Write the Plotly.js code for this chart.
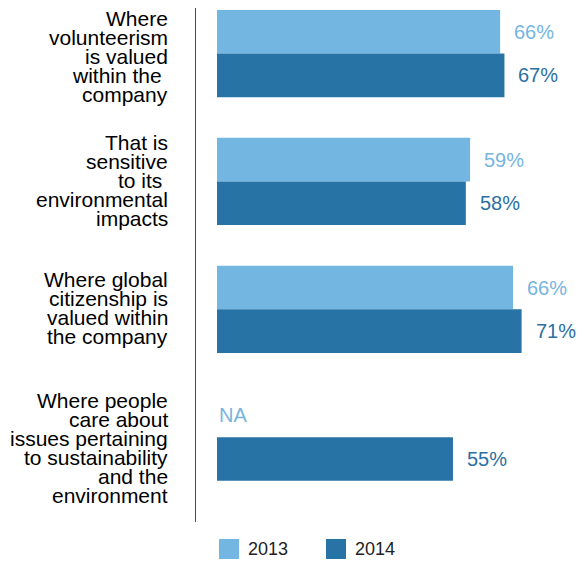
<!DOCTYPE html>
<html>
<head>
<meta charset="utf-8">
<script src="https://cdn.plot.ly/plotly-3.0.1.min.js"></script>
<style>html,body{margin:0;padding:0;background:#fff;}#chart{width:579px;height:562px;}</style>
</head>
<body>
<div id="chart"></div>
<script>
// ---- data ----
const categories = [
  "Where<br>volunteerism<br>is valued<br>within the <br>company",
  "That is<br>sensitive<br>to its <br>environmental<br>impacts",
  "Where global<br>citizenship is<br>valued within<br>the company",
  "Where people<br>care about<br>issues pertaining<br>to sustainability<br>and the<br>environment"
];
const seriesNames = ["2013", "2014"];
// bar lengths as drawn in the picture (third 2013 bar is drawn longer than its 66% label)
const values2013 = [66, 59, 69, null];
const labels2013 = ["66%", "59%", "66%", "NA"];
const values2014 = [67, 58, 71, 55];
const labels2014 = ["67%", "58%", "71%", "55%"];

// ---- style ----
const LIGHT = "#74b6e2";
const DARK = "#2773a6";
const LIGHT_TXT = "#76b5e0";
const DARK_TXT = "#2a70a2";
const FONT = "Liberation Sans, Arial, Helvetica, sans-serif";
const BARGAP = 0.318;
const labelNudge = [3, -1, -1, 11];

const traces = [
  {type: "bar", orientation: "h", name: seriesNames[0], y: categories, x: values2013,
   marker: {color: LIGHT}, hoverinfo: "skip", showlegend: false},
  {type: "bar", orientation: "h", name: seriesNames[1], y: categories, x: values2014,
   marker: {color: DARK}, hoverinfo: "skip", showlegend: false}
];

const annotations = [];
const slot = (1 - BARGAP) / 4;
categories.forEach((c, i) => {
  const lines = c.split("<br>").map(s => s.replace(/ $/, "\u00a0"));
  const n = lines.length;
  lines.forEach((ln, j) => {
    annotations.push({
      xref: "paper", yref: "y", x: 0, y: i, xanchor: "right", yanchor: "middle",
      xshift: -26, yshift: -((j - (n - 1) / 2) * 19 + labelNudge[i]),
      text: ln, showarrow: false,
      font: {family: FONT, size: 21, color: "#000"}
    });
  });
  annotations.push({
    xref: "x", yref: "y", x: values2013[i] == null ? 0 : values2013[i], y: i - slot,
    xanchor: "left", yanchor: "middle", xshift: values2013[i] == null ? 0 : 12,
    text: labels2013[i], showarrow: false,
    font: {family: FONT, size: 20, color: LIGHT_TXT}
  });
  annotations.push({
    xref: "x", yref: "y", x: values2014[i], y: i + slot,
    xanchor: "left", yanchor: "middle", xshift: 12,
    text: labels2014[i], showarrow: false,
    font: {family: FONT, size: 20, color: DARK_TXT}
  });
});

// custom legend (20px squares)
const plotW = 579 - 196, plotH = 514;
const legendItems = [{name: seriesNames[0], color: LIGHT, px: 219}, {name: seriesNames[1], color: DARK, px: 326}];
const shapes = [];
legendItems.forEach(it => {
  shapes.push({type: "rect", xref: "paper", yref: "paper",
    x0: (it.px - 196) / plotW, x1: (it.px + 20 - 196) / plotW,
    y0: (522 - 559) / plotH, y1: (522 - 539) / plotH,
    fillcolor: it.color, line: {width: 0}});
  annotations.push({xref: "paper", yref: "paper", x: (it.px + 27 - 196) / plotW, y: (522 - 549) / plotH,
    xanchor: "left", yanchor: "middle", text: it.name, showarrow: false,
    font: {family: FONT, size: 18, color: "#222"}});
});

const layout = {
  width: 579, height: 562,
  margin: {l: 196, r: 0, t: 8, b: 40},
  paper_bgcolor: "#fff", plot_bgcolor: "#fff",
  barmode: "group", bargap: BARGAP, bargroupgap: 0,
  showlegend: false,
  font: {family: FONT},
  xaxis: {range: [-4.895, 84.38], showgrid: false, zeroline: false, showticklabels: false, showline: false, fixedrange: true},
  yaxis: {type: "category", range: [3.663, -0.356], showgrid: false, zeroline: false, showticklabels: false,
          showline: true, linecolor: "#4a4a4a", linewidth: 1.5, ticks: "", fixedrange: true},
  annotations: annotations,
  shapes: shapes
};

Plotly.newPlot("chart", traces, layout, {displayModeBar: false, staticPlot: true});
</script>
</body>
</html>
